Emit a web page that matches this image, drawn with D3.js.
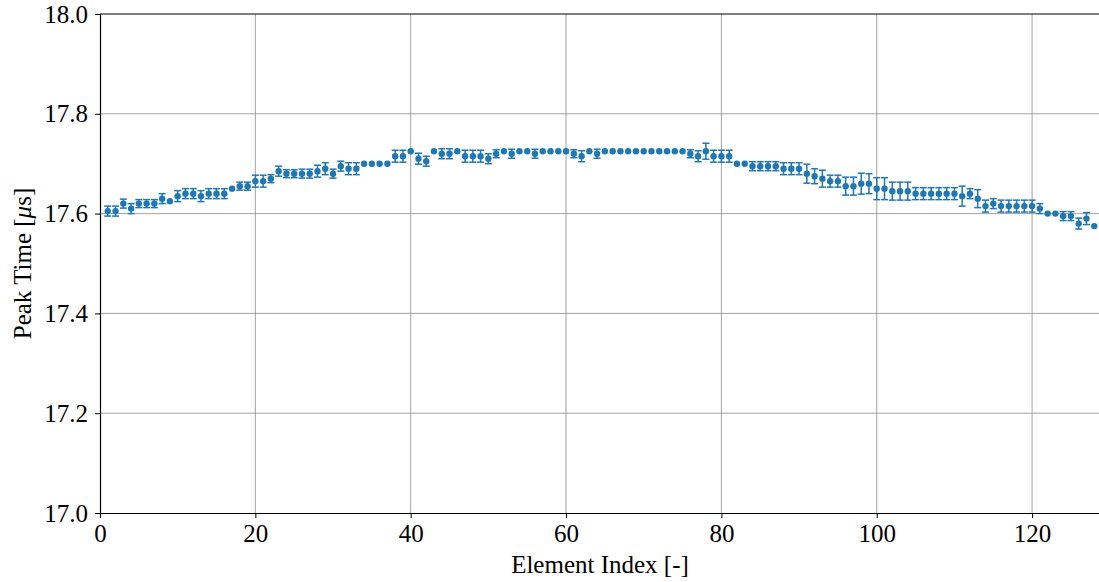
<!DOCTYPE html>
<html>
<head>
<meta charset="utf-8">
<script src="https://cdn.jsdelivr.net/npm/d3@7"></script>
<style>
  body { margin: 0; background: #fff; }
  text { font-family: "Liberation Serif", "DejaVu Serif", serif; fill: #000; }
</style>
</head>
<body>
<svg id="chart"></svg>
<script>
// peak time per element
var peakTimes = [
  17.605, 17.605, 17.62, 17.61, 17.62, 17.62, 17.62, 17.63, 17.625, 17.635,
  17.64, 17.64, 17.635, 17.64, 17.64, 17.64, 17.65, 17.655, 17.655, 17.665,
  17.665, 17.67, 17.685, 17.68, 17.68, 17.68, 17.68, 17.685, 17.69, 17.68,
  17.695, 17.69, 17.69, 17.70, 17.70, 17.70, 17.70, 17.715, 17.715, 17.725,
  17.71, 17.705, 17.725, 17.72, 17.72, 17.725, 17.715, 17.715, 17.715, 17.71,
  17.72, 17.725, 17.72, 17.725, 17.725, 17.72, 17.725, 17.725, 17.725, 17.725,
  17.72, 17.715, 17.725, 17.72, 17.725, 17.725, 17.725, 17.725, 17.725, 17.725,
  17.725, 17.725, 17.725, 17.725, 17.725, 17.72, 17.715, 17.725, 17.715, 17.715,
  17.715, 17.70, 17.70, 17.695, 17.695, 17.695, 17.695, 17.69, 17.69, 17.69,
  17.68, 17.675, 17.67, 17.665, 17.665, 17.655, 17.655, 17.66, 17.66, 17.65,
  17.65, 17.645, 17.645, 17.645, 17.64, 17.64, 17.64, 17.64, 17.64, 17.64,
  17.635, 17.64, 17.63, 17.615, 17.62, 17.615, 17.615, 17.615, 17.615, 17.615,
  17.61, 17.60, 17.60, 17.595, 17.595, 17.58, 17.59, 17.575
];
// standard deviation per element
var peakErrors = [
  0.010, 0.010, 0.009, 0.010, 0.008, 0.008, 0.008, 0.010, 0, 0.011,
  0.010, 0.010, 0.011, 0.010, 0.010, 0.010, 0, 0.008, 0.008, 0.012,
  0.012, 0.008, 0.010, 0.008, 0.008, 0.009, 0.009, 0.012, 0.012, 0.009,
  0.010, 0.012, 0.012, 0, 0, 0, 0, 0.012, 0.012, 0,
  0.011, 0.010, 0, 0.010, 0.010, 0, 0.012, 0.012, 0.012, 0.010,
  0.008, 0, 0.009, 0, 0, 0.009, 0, 0, 0, 0,
  0.008, 0.011, 0, 0.009, 0, 0, 0, 0, 0, 0,
  0, 0, 0, 0, 0, 0.008, 0.011, 0.016, 0.012, 0.012,
  0.012, 0, 0, 0.009, 0.009, 0.009, 0.009, 0.012, 0.012, 0.012,
  0.019, 0.015, 0.017, 0.012, 0.012, 0.018, 0.018, 0.021, 0.020, 0.022,
  0.022, 0.018, 0.018, 0.018, 0.012, 0.012, 0.012, 0.012, 0.012, 0.012,
  0.020, 0.010, 0.018, 0.012, 0.010, 0.012, 0.012, 0.012, 0.012, 0.012,
  0.010, 0, 0, 0.009, 0.009, 0.011, 0.012, 0
];
var xTicks = [0, 20, 40, 60, 80, 100, 120];
var yTicks = [17.0, 17.2, 17.4, 17.6, 17.8, 18.0];

var width = 1099, height = 582;
var margin = { top: 14, right: -3, bottom: 69, left: 100 };
var blue = "#1f77b4";
var serif = "'Liberation Serif', 'DejaVu Serif', serif";

var data = peakTimes.map((v, i) => ({ idx: i + 1, val: v, err: peakErrors[i] }));

var svg = d3.select("#chart").attr("width", width).attr("height", height);

var x = d3.scaleLinear().domain([0, 129]).range([margin.left, width - margin.right]);
var y = d3.scaleLinear().domain([17.0, 18.0]).range([height - margin.bottom, margin.top]);

// grid
svg.append("g").selectAll("line").data(xTicks.slice(1)).join("line")
    .attr("x1", d => x(d)).attr("x2", d => x(d))
    .attr("y1", y(17.0)).attr("y2", y(18.0))
    .attr("stroke", "#8c8c8c").attr("stroke-width", 0.8);
svg.append("g").selectAll("line").data(yTicks.slice(1, -1)).join("line")
    .attr("x1", x(0)).attr("x2", x(129))
    .attr("y1", d => y(d)).attr("y2", d => y(d))
    .attr("stroke", "#8c8c8c").attr("stroke-width", 0.8);

// error bars
var bars = svg.append("g").attr("stroke", blue).attr("stroke-width", 1.5)
  .selectAll("g").data(data.filter(d => d.err > 0)).join("g");
bars.append("line")
    .attr("x1", d => x(d.idx)).attr("x2", d => x(d.idx))
    .attr("y1", d => y(d.val - d.err)).attr("y2", d => y(d.val + d.err));
bars.append("line")
    .attr("x1", d => x(d.idx) - 3.5).attr("x2", d => x(d.idx) + 3.5)
    .attr("y1", d => y(d.val - d.err)).attr("y2", d => y(d.val - d.err));
bars.append("line")
    .attr("x1", d => x(d.idx) - 3.5).attr("x2", d => x(d.idx) + 3.5)
    .attr("y1", d => y(d.val + d.err)).attr("y2", d => y(d.val + d.err));

// points
svg.append("g").selectAll("circle").data(data).join("circle")
    .attr("cx", d => x(d.idx)).attr("cy", d => y(d.val))
    .attr("r", 3.2).attr("fill", blue);

// axes
var xAxis = svg.append("g")
    .attr("transform", "translate(0," + y(17.0) + ")")
    .call(d3.axisBottom(x).tickValues(xTicks).tickFormat(d3.format("d")).tickSize(5).tickPadding(6));
var yAxis = svg.append("g")
    .attr("transform", "translate(" + x(0) + ",0)")
    .call(d3.axisLeft(y).tickValues(yTicks).tickFormat(d3.format(".1f")).tickSize(5).tickPadding(7));
[xAxis, yAxis].forEach(a => {
  a.select(".domain").attr("stroke", "#000").attr("stroke-width", 1.2);
  a.selectAll(".tick line").attr("stroke", "#000").attr("stroke-width", 1);
  a.selectAll(".tick text").style("font-size", "25px").style("font-family", serif);
});

// top spine
svg.append("line")
    .attr("x1", x(0)).attr("x2", x(129))
    .attr("y1", y(18.0)).attr("y2", y(18.0))
    .attr("stroke", "#000").attr("stroke-width", 1.2);

// axis labels
svg.append("text")
    .attr("x", 600).attr("y", 573)
    .attr("text-anchor", "middle").style("font-size", "25px")
    .text("Element Index [-]");

var yl = svg.append("text")
    .attr("transform", "translate(31," + ((y(17.0) + y(18.0)) / 2) + ") rotate(-90)")
    .attr("text-anchor", "middle").style("font-size", "25px");
yl.append("tspan").text("Peak Time [");
yl.append("tspan").attr("font-style", "italic").text("μ");
yl.append("tspan").text("s]");
</script>
</body>
</html>
